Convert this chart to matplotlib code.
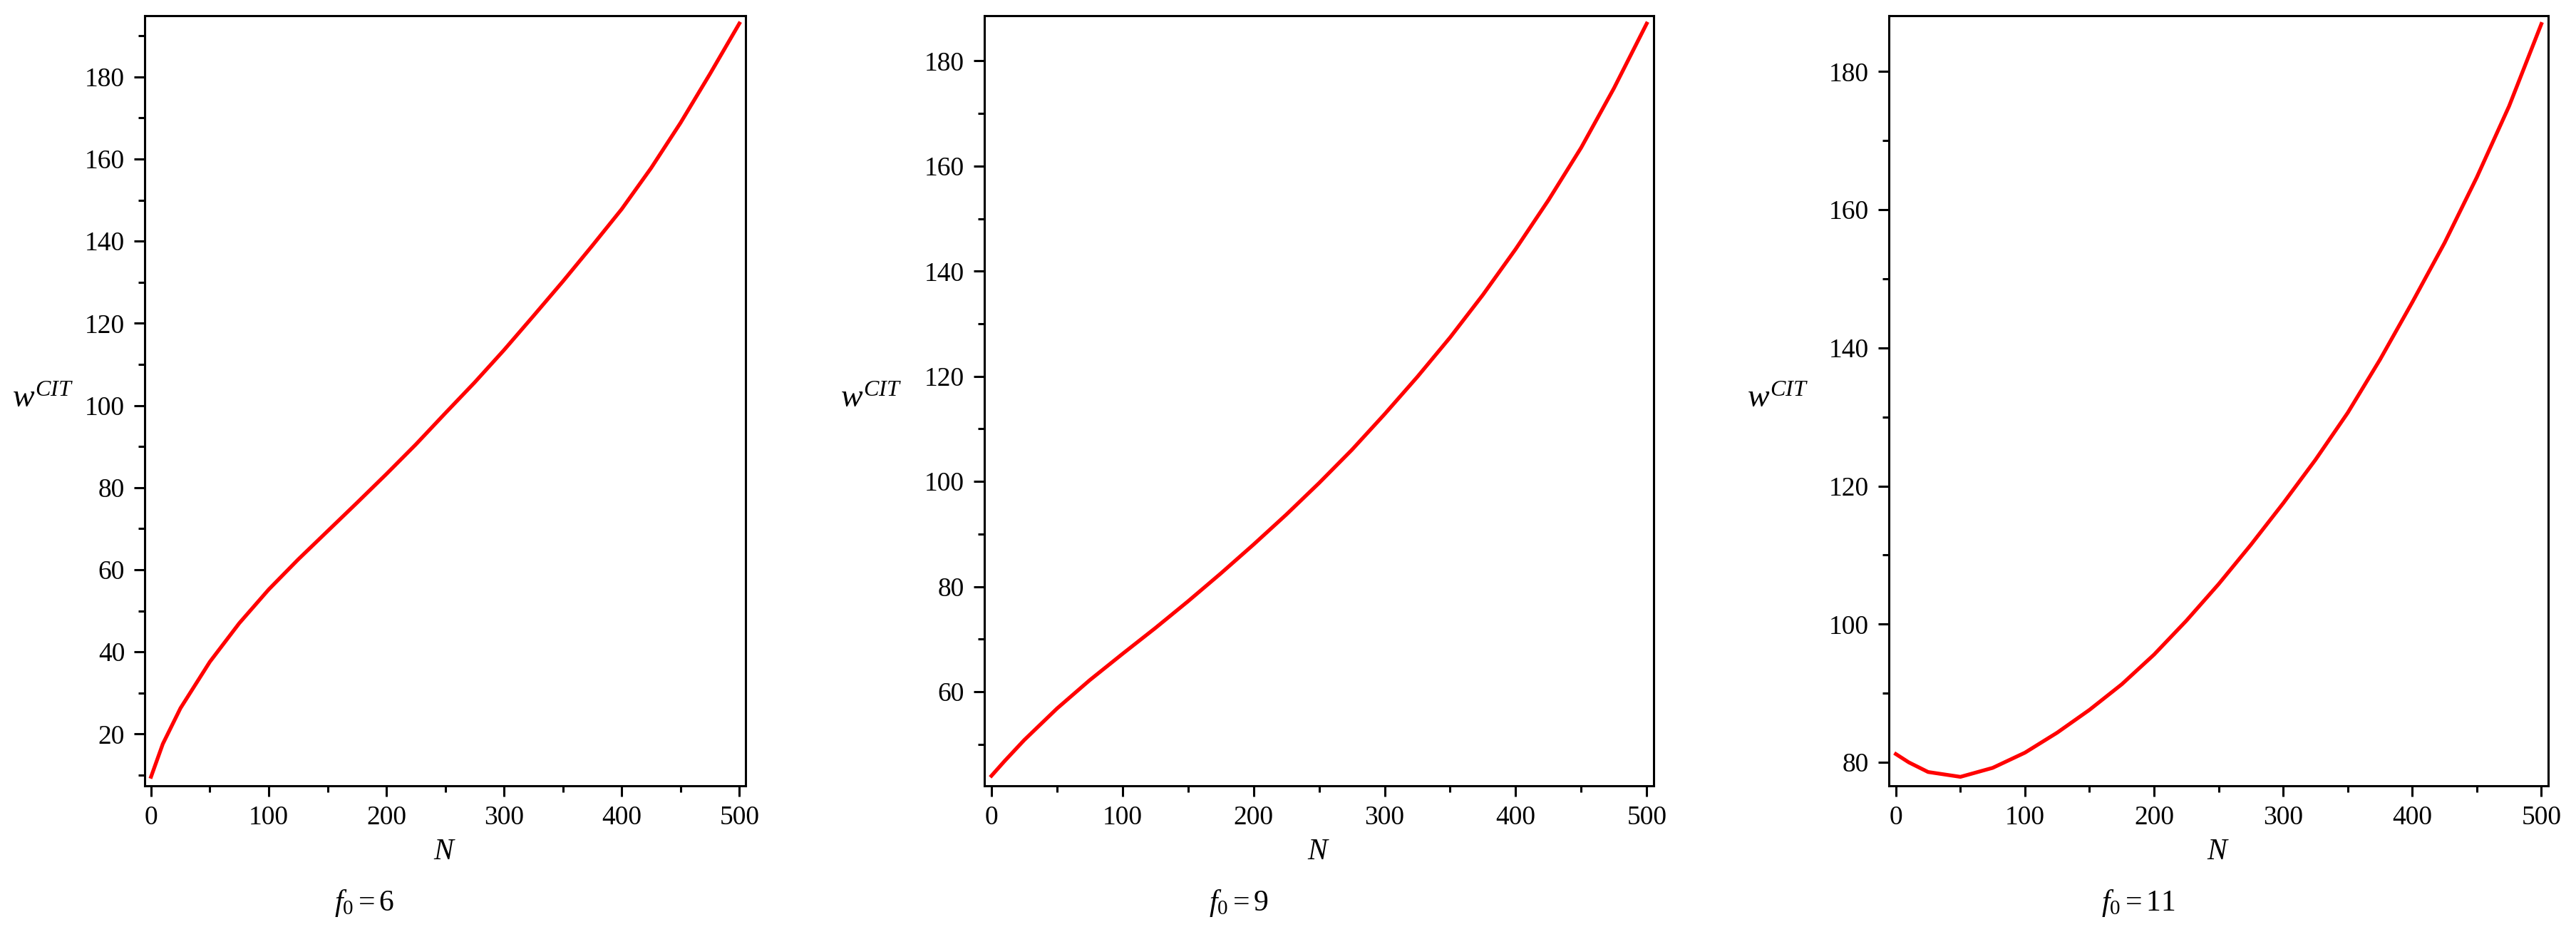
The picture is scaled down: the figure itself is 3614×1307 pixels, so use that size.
import matplotlib
matplotlib.use("Agg")
import matplotlib.pyplot as plt
from matplotlib.ticker import MultipleLocator

plt.rcParams['font.family'] = ['Liberation Serif', 'DejaVu Serif']
plt.rcParams['mathtext.fontset'] = 'custom'
plt.rcParams['mathtext.rm'] = 'Liberation Serif'
plt.rcParams['mathtext.it'] = 'Liberation Serif:italic'

N = [0, 10, 25, 50, 75, 100, 125, 150, 175, 200, 225, 250, 275, 300,
     325, 350, 375, 400, 425, 450, 475, 500]

# w^CIT for f0 = 6, 9, 11
w_f6 = [9.6, 17.6, 26.3, 37.6, 47.0, 55.2, 62.5, 69.4, 76.3, 83.3, 90.5,
        98.1, 105.6, 113.5, 121.8, 130.2, 138.9, 147.8, 157.8, 168.8,
        180.7, 193.0]
w_f9 = [44.0, 46.8, 50.8, 56.8, 62.2, 67.2, 72.1, 77.2, 82.5, 88.0, 93.7,
        99.7, 106.0, 112.8, 119.9, 127.4, 135.5, 144.2, 153.5, 163.5,
        174.8, 187.1]
w_f11 = [81.2, 80.0, 78.6, 77.9, 79.2, 81.4, 84.3, 87.6, 91.3, 95.6, 100.5,
         105.8, 111.5, 117.5, 123.8, 130.6, 138.3, 146.6, 155.2, 164.7,
         175.0, 186.9]

captions = [r'$f_0 = 6$', r'$f_0 = 9$', r'$f_0 = 11$']
series = [w_f6, w_f9, w_f11]
ylims = [(7.4, 194.9), (42.1, 188.6), (76.6, 188.1)]

W, H = 3614, 1307
fig = plt.figure(figsize=(W / 100, H / 100), dpi=100)

# axes boxes in pixels: left, right
boxes = [(203, 1046), (1381, 2320), (2650, 3575)]
top, bottom = 22, 1102
ylab_x = [60, 1222, 2494]

for i in range(3):
    l, r = boxes[i]
    ax = fig.add_axes([l / W, 1 - bottom / H, (r - l) / W, (bottom - top) / H])
    ax.plot(N, series[i], color='red', lw=3.8)
    ax.set_xlim(-5.4, 505.3)
    ax.set_ylim(*ylims[i])
    ax.xaxis.set_major_locator(MultipleLocator(100))
    ax.xaxis.set_minor_locator(MultipleLocator(50))
    ax.yaxis.set_major_locator(MultipleLocator(20))
    ax.yaxis.set_minor_locator(MultipleLocator(10))
    ax.tick_params(which='major', length=11, width=2.2, labelsize=27, pad=9)
    ax.tick_params(which='minor', length=6.5, width=2.2)
    for s in ax.spines.values():
        s.set_linewidth(2.2)

    cx = (l + r) / 2
    fig.text(cx / W, 1 - 1195 / H, r'$N$', fontsize=30, ha='center', va='center')
    fig.text((cx - 113) / W, 1 - 1266 / H, captions[i], fontsize=30,
             ha='center', va='center')
    fig.text(ylab_x[i] / W, 1 - 560 / H, r'$w^{CIT}$', fontsize=33,
             ha='center', va='center')

fig.savefig('out.png', dpi=100, facecolor='white')
